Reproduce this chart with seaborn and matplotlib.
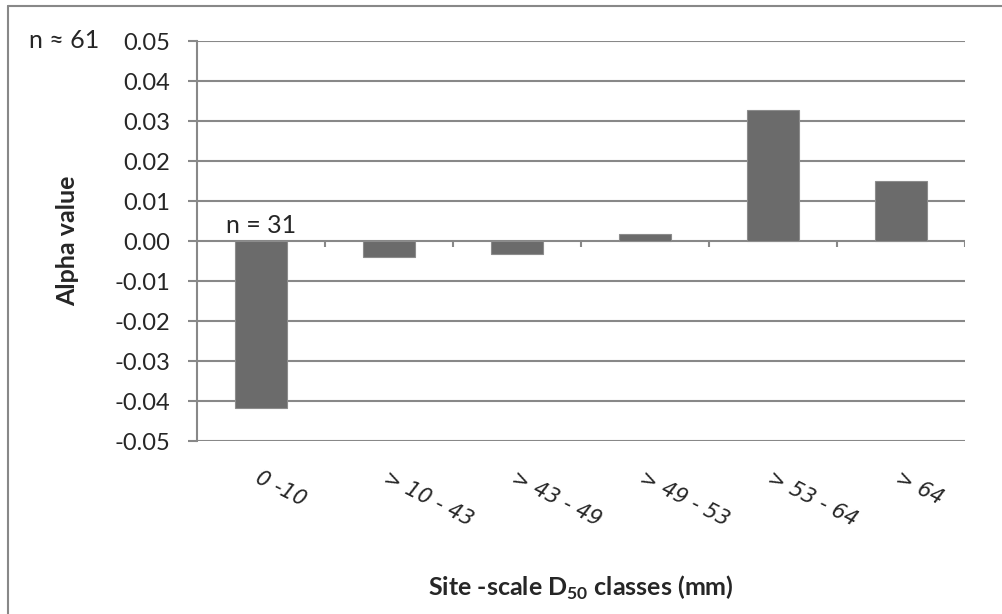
import matplotlib
matplotlib.use("Agg")
import matplotlib.pyplot as plt
import matplotlib.ticker as mticker
from matplotlib.lines import Line2D
import numpy as np
import pandas as pd
import seaborn as sns

# data
classes = ["0 -10", "> 10 - 43", "> 43 - 49", "> 49 - 53", "> 53 - 64", "> 64"]
alpha_values = [-0.0417, -0.0039, -0.0033, 0.0017, 0.0328, 0.0149]
y_ticks = [-0.05, -0.04, -0.03, -0.02, -0.01, 0.00, 0.01, 0.02, 0.03, 0.04, 0.05]

df = pd.DataFrame({"cls": classes, "alpha": alpha_values})

sns.set_style("white")
plt.rcParams["font.family"] = ["Lato", "DejaVu Sans"]
# only mathtext in the figure is the bold subscript of the x label
plt.rcParams["mathtext.fontset"] = "custom"
plt.rcParams["mathtext.rm"] = "Lato:bold"
plt.rcParams["mathtext.bf"] = "Lato:bold"

grid_col = "#888888"
bar_col = "#6b6b6b"

fig = plt.figure(figsize=(10.02, 6.14), dpi=100)
ax = fig.add_axes([197 / 1002, 1 - 441 / 614, 768 / 1002, 400 / 614])

sns.barplot(data=df, x="cls", y="alpha", color=bar_col, width=0.4,
            edgecolor="#8c8c8c", linewidth=0.8, saturation=1, ax=ax, zorder=3)

ax.set_ylim(-0.05, 0.05)
ax.set_xlim(-0.5, len(classes) - 0.5)
ax.set_yticks(y_ticks)
ax.yaxis.set_major_formatter(mticker.FormatStrFormatter("%.2f"))
for t in y_ticks:
    ax.axhline(t, color=grid_col, lw=1.5, zorder=1)

for side in ["top", "right", "bottom"]:
    ax.spines[side].set_visible(False)
ax.spines["left"].set_color(grid_col)
ax.spines["left"].set_linewidth(1.5)

ax.tick_params(axis="y", length=6.5, width=1.5, color=grid_col, pad=13,
               labelsize=17, direction="out", left=True)

# category axis at zero with small ticks between categories
ax.vlines(np.arange(len(classes)) + 0.5, -0.0015, 0, color=grid_col, lw=1.5, zorder=2)

ax.set_xticks(range(len(classes)))
ax.set_xticklabels(classes)
ax.tick_params(axis="x", length=0, pad=19, labelsize=15)
for lab in ax.get_xticklabels():
    lab.set_rotation(-27)
    lab.set_ha("left")
    lab.set_va("top")
    lab.set_rotation_mode("anchor")
    lab.set_fontstyle("italic")
    lab.set_family(["DejaVu Sans"])

ax.set_xlabel("")
ax.set_ylabel("Alpha value", fontsize=18, fontweight="bold", va="center")
ax.yaxis.set_label_coords((68 - 197) / 768, 0.5)
fig.text(581 / 1002, 1 - 588 / 614, r"Site -scale D$_{\mathrm{50}}$ classes (mm)",
         ha="center", va="center", fontsize=18, fontweight="bold")

ax.text(0, 0.0009, "n = 31", ha="center", va="bottom", fontsize=18)
fig.text(29 / 1002, 1 - 41 / 614, "n ≈ 61", ha="left", va="center", fontsize=18)

# chart frame (top and left edges visible)
fig.add_artist(Line2D([8 / 1002, 1], [1 - 6 / 614, 1 - 6 / 614], color=grid_col, lw=1.5))
fig.add_artist(Line2D([8 / 1002, 8 / 1002], [0, 1 - 6 / 614], color=grid_col, lw=1.5))

fig.savefig("out.png", dpi=100)
